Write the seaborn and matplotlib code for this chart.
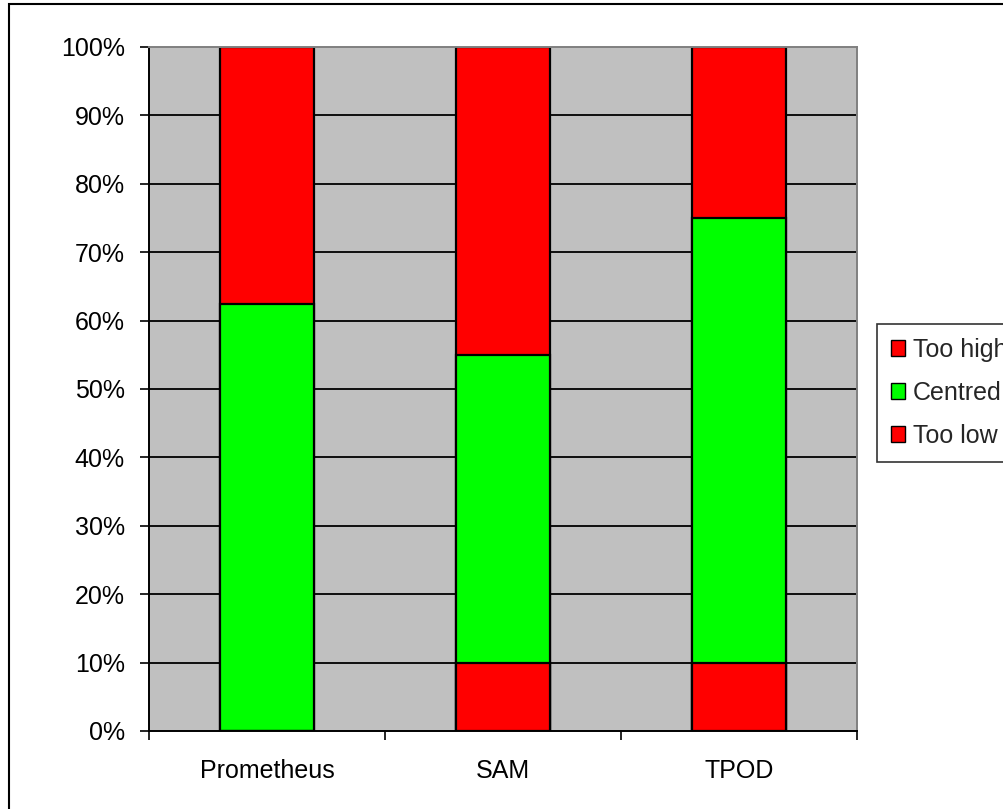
import matplotlib
matplotlib.use("Agg")
import matplotlib.pyplot as plt
from matplotlib.patches import Rectangle, Patch
from matplotlib.ticker import FixedLocator
import seaborn as sns
import pandas as pd

# Share of readings per method (percent)
methods = ["Prometheus", "SAM", "TPOD"]
too_low = [0, 10, 10]
centred = [62.5, 45, 65]
too_high = [37.5, 45, 25]

sns.set_theme(style="white")
plt.rcParams["font.family"] = ["Liberation Sans", "DejaVu Sans"]

FS = 18

df = pd.DataFrame({"method": methods, "low": too_low, "centred": centred, "high": too_high})
df["cum_low"] = df["low"]
df["cum_centred"] = df["low"] + df["centred"]
df["cum_high"] = df["cum_centred"] + df["high"]

fig = plt.figure(figsize=(10.04, 8.09), dpi=100)
fig.patch.set_facecolor("white")
ax = fig.add_axes([149 / 1004, 1 - 731 / 809, 708 / 1004, 684 / 809])
ax.set_facecolor("#C0C0C0")

RED = "#FF0000"
GREEN = "#00FF00"

# Horizontal gridlines behind the bars
for v in range(10, 100, 10):
    ax.axhline(v, color="black", lw=1.3, zorder=0.5)

# Stacked bars: draw cumulative totals from top segment down
layers = [("cum_high", RED), ("cum_centred", GREEN), ("cum_low", RED)]
for col, colr in layers:
    sns.barplot(data=df, x="method", y=col, color=colr, width=0.4,
                edgecolor="black", linewidth=1.6, saturation=1, ax=ax, zorder=2)

ax.set_xlim(-0.5, 2.5)
ax.set_ylim(0, 100)
ax.set_xlabel("")
ax.set_ylabel("")

ax.set_yticks(range(0, 101, 10))
ax.set_yticklabels([f"{v}%" for v in range(0, 101, 10)], fontsize=FS, color="black")
ax.tick_params(axis="y", which="major", length=6.5, width=1.2, color="black", pad=11, left=True)

ax.set_xticks(range(len(methods)))
ax.set_xticklabels(methods, fontsize=FS, color="black")
ax.xaxis.set_minor_locator(FixedLocator([-0.5, 0.5, 1.5, 2.5]))
ax.tick_params(axis="x", which="major", length=0, pad=20)
ax.tick_params(axis="x", which="minor", length=6.5, width=1.2, color="black", bottom=True)

for side in ["left", "bottom"]:
    ax.spines[side].set_color("black")
    ax.spines[side].set_linewidth(1.4)
for side in ["top", "right"]:
    ax.spines[side].set_visible(True)
    ax.spines[side].set_color("#808080")
    ax.spines[side].set_linewidth(1.4)

handles = [Patch(facecolor=RED, edgecolor="black", lw=1),
           Patch(facecolor=GREEN, edgecolor="black", lw=1),
           Patch(facecolor=RED, edgecolor="black", lw=1)]
leg = fig.legend(handles, ["Too high", "Centred", "Too low"],
                 loc="upper left", bbox_to_anchor=(877 / 1004, 1 - 324 / 809),
                 frameon=True, fancybox=False, fontsize=FS,
                 handlelength=0.56, handleheight=0.56, handletextpad=0.32,
                 labelspacing=0.76, borderpad=0.55, borderaxespad=0)
leg.get_frame().set_edgecolor("black")
leg.get_frame().set_linewidth(1.2)

# Chart-area border
fig.patches.append(Rectangle((9 / 1004, -0.1), 2.0, 1.1 - 4 / 809,
                             transform=fig.transFigure, fill=False,
                             edgecolor="black", lw=1.5, zorder=0))

fig.savefig("out.png", dpi=100)
